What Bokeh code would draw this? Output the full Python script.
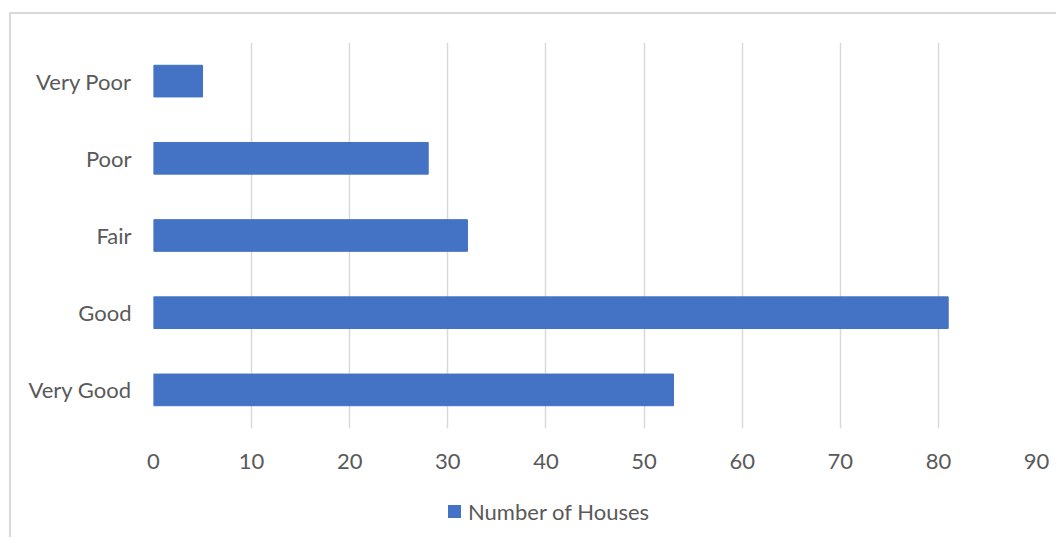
from bokeh.plotting import figure
from bokeh.models import FactorRange, Range1d, Div
from bokeh.layouts import column
from bokeh.embed import file_html
from bokeh.resources import INLINE

categories = ["Very Good", "Good", "Fair", "Poor", "Very Poor"]
houses = [53, 81, 32, 28, 5]
x_ticks = [0, 10, 20, 30, 40, 50, 60, 70, 80, 90]
series_name = "Number of Houses"

FONT = "Lato"
TXT = "#595959"
GRID = "#d9d9d9"
BAR = "#4472C4"

p = figure(width=1045, height=477, output_backend="svg", toolbar_location=None,
           y_range=FactorRange(factors=categories), x_range=Range1d(0, 90),
           min_border_left=142, min_border_top=28, min_border_right=20, min_border_bottom=63)

r = p.hbar(y=categories, right=houses, left=0, height=0.41, color=BAR)

p.outline_line_color = None
p.xgrid.ticker = x_ticks
p.xgrid.grid_line_color = GRID
p.xgrid.grid_line_width = 1.5
p.ygrid.grid_line_color = None

p.xaxis.ticker = x_ticks
for ax in (p.xaxis[0], p.yaxis[0]):
    ax.axis_line_color = None
    ax.major_tick_line_color = None
    ax.minor_tick_line_color = None
    ax.major_tick_out = 0
    ax.major_tick_in = 0
    ax.major_label_text_font = FONT
    ax.major_label_text_font_size = "22px"
    ax.major_label_text_color = TXT
p.xaxis.major_label_standoff = 25
p.yaxis.major_label_standoff = 22

legend_html = (
    f'<div style="display:flex;align-items:center;font-family:{FONT};font-size:22px;color:{TXT};">'
    f'<span style="display:inline-block;width:13px;height:13px;background:{BAR};margin-right:7px;"></span>'
    f'<span>{series_name}</span></div>'
)
leg = Div(text=legend_html, width=400, height=36, styles={"margin-left": "437px"})

layout = column(p, leg, spacing=0,
                styles={"border-left": "2px solid #d9d9d9", "border-top": "2px solid #d9d9d9",
                        "margin-left": "9px", "margin-top": "12px"})

open("out.html", "w").write(file_html(layout, INLINE))
